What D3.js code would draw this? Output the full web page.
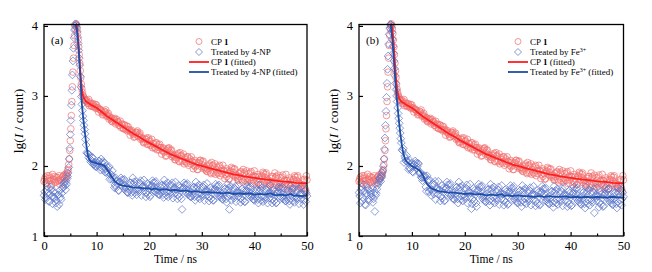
<!DOCTYPE html>
<html><head><meta charset="utf-8">
<script src="https://cdn.jsdelivr.net/npm/d3@7"></script>
<style>
body{margin:0;background:#fff}
text{font-family:"Liberation Serif","Times New Roman",serif}
</style>
</head><body>
<script>
var W = 652, H = 272;

// time channels (ns): 0.25 ns steps, finer 0.1 ns steps around the pulse (4-8 ns)
var time = d3.range(0, 16).map(function(k) { return k / 4 })
  .concat(d3.range(40, 80).map(function(k) { return k / 10 }))
  .concat(d3.range(32, 201).map(function(k) { return k / 4 }));
// in-between channels (x.125, x.375 ...) outside the pulse
var timeB = d3.range(0, 16).map(function(k) { return k / 4 + 0.125 })
  .concat(d3.range(32, 200).map(function(k) { return k / 4 + 0.125 }));

// CP 1 decay, lg(counts) -- same sample in both panels
var cp1 = [
 1.78,1.84,1.75,1.82, 1.86,1.79,1.73,1.81, 1.85,1.77,1.83,1.80, 1.74,1.79,1.84,1.87,
 1.82,1.88,1.85,1.90,1.87,1.93,1.95,2.02,2.10,2.22,
 2.36,2.53,2.72,2.92,3.13,3.34,3.54,3.72,3.86,3.96,
 4.01,4.03,4.01,3.96,3.89,3.80,3.70,3.59,3.47,3.36,
 3.26,3.17,3.10,3.05,3.01,2.99,2.97,2.95,2.94,2.93,
 2.93,2.90,2.95,2.91, 2.86,2.89,2.84,2.88, 2.87,2.83,2.81,2.80, 2.77,2.74,2.78,2.80,
 2.72,2.75,2.70,2.69, 2.63,2.67,2.68,2.62, 2.63,2.58,2.64,2.60, 2.54,2.59,2.52,2.57,
 2.56,2.52,2.49,2.47, 2.45,2.42,2.48,2.50, 2.43,2.47,2.41,2.39, 2.33,2.38,2.40,2.31,
 2.35,2.29,2.38,2.32, 2.27,2.33,2.23,2.30, 2.31,2.26,2.22,2.20, 2.20,2.15,2.24,2.26,
 2.19,2.23,2.16,2.13, 2.09,2.15,2.18,2.06, 2.14,2.06,2.17,2.10, 2.06,2.13,2.01,2.10,
 2.13,2.06,2.01,1.99, 2.01,1.95,2.05,2.08, 2.02,2.07,1.98,1.95, 1.92,1.99,2.03,1.89,
 2.00,1.90,2.03,1.95, 1.91,1.99,1.86,1.96, 2.01,1.93,1.88,1.85, 1.89,1.82,1.93,1.96,
 1.91,1.96,1.86,1.83, 1.80,1.89,1.92,1.77, 1.89,1.79,1.93,1.83, 1.81,1.90,1.75,1.86,
 1.93,1.84,1.78,1.76, 1.81,1.74,1.86,1.89, 1.84,1.90,1.79,1.75, 1.73,1.82,1.85,1.69,
 1.83,1.72,1.87,1.77, 1.75,1.84,1.68,1.80, 1.88,1.79,1.73,1.70, 1.76,1.68,1.81,1.84,
 1.79,1.86,1.74,1.70, 1.68,1.77,1.81,1.64, 1.80
];
var cp1B = [
 1.81,1.76,1.86,1.79, 1.83,1.74,1.88,1.80, 1.77,1.84,1.79,1.86, 1.81,1.76,1.85,1.83,
 2.94,2.89,2.86,2.89, 2.85,2.88,2.85,2.82, 2.83,2.77,2.81,2.79, 2.73,2.76,2.77,2.71,
 2.73,2.67,2.68,2.64, 2.65,2.66,2.60,2.66, 2.63,2.58,2.55,2.59, 2.53,2.58,2.53,2.50,
 2.51,2.44,2.51,2.48, 2.41,2.46,2.48,2.42, 2.45,2.38,2.39,2.34, 2.35,2.38,2.31,2.40,
 2.36,2.30,2.26,2.32, 2.25,2.33,2.27,2.23, 2.26,2.17,2.26,2.24, 2.14,2.22,2.25,2.17,
 2.22,2.13,2.15,2.09, 2.12,2.16,2.07,2.19, 2.15,2.08,2.03,2.12, 2.04,2.13,2.07,2.03,
 2.06,1.96,2.08,2.05, 1.95,2.04,2.08,1.99, 2.06,1.96,1.98,1.93, 1.96,2.01,1.91,2.05,
 2.01,1.93,1.88,1.98, 1.89,2.01,1.93,1.89, 1.93,1.82,1.96,1.93, 1.81,1.92,1.98,1.87,
 1.95,1.84,1.87,1.80, 1.85,1.91,1.80,1.95, 1.91,1.82,1.77,1.89, 1.79,1.92,1.84,1.80,
 1.85,1.73,1.88,1.85, 1.73,1.85,1.91,1.80, 1.88,1.76,1.80,1.73, 1.78,1.85,1.73,1.90,
 1.85,1.76,1.70,1.83, 1.73,1.87,1.78,1.74, 1.79,1.67,1.83,1.80, 1.67,1.80,1.86,1.75,
 1.84,1.71,1.75,1.68, 1.73,1.80,1.68,1.86
];

// treated by 4-NP (panel a)
var np = [
 1.58,1.52,1.66,1.61, 1.49,1.70,1.57,1.63, 1.54,1.47,1.42,1.59, 1.65,1.52,1.68,1.74,
 1.72,1.66,1.78,1.74,1.82,1.85,1.90,1.98,2.10,2.25,
 2.45,2.65,2.87,3.08,3.30,3.50,3.68,3.83,3.94,4.00,
 4.03,4.02,3.98,3.92,3.84,3.75,3.65,3.54,3.44,3.28,
 3.13,2.99,2.88,2.79,2.71,2.65,2.58,2.52,2.46,2.38,
 2.30,2.18,2.12,2.10, 2.08,2.12,2.03,2.00, 1.99,2.04,2.07,1.94, 2.04,1.95,2.05,1.96,
 1.92,1.97,1.81,1.88, 1.93,1.81,1.73,1.69, 1.74,1.65,1.77,1.80, 1.75,1.81,1.69,1.63,
 1.62,1.72,1.76,1.58, 1.74,1.62,1.78,1.67, 1.65,1.76,1.58,1.71, 1.80,1.69,1.62,1.59,
 1.67,1.58,1.72,1.76, 1.70,1.78,1.65,1.60, 1.59,1.69,1.73,1.55, 1.71,1.58,1.76,1.64,
 1.62,1.73,1.54,1.69, 1.77,1.66,1.59,1.56, 1.64,1.38,1.69,1.73, 1.67,1.75,1.61,1.57,
 1.56,1.66,1.70,1.51, 1.68,1.55,1.73,1.61, 1.59,1.70,1.51,1.66, 1.75,1.63,1.56,1.53,
 1.61,1.51,1.67,1.71, 1.65,1.73,1.59,1.55, 1.52,1.63,1.68,1.48, 1.66,1.38,1.71,1.59,
 1.57,1.68,1.49,1.64, 1.73,1.61,1.54,1.51, 1.59,1.49,1.65,1.69, 1.63,1.71,1.57,1.53,
 1.51,1.62,1.67,1.47, 1.64,1.51,1.69,1.57, 1.55,1.66,1.47,1.62, 1.72,1.60,1.53,1.50,
 1.58,1.48,1.64,1.68, 1.62,1.70,1.56,1.52, 1.50,1.60,1.65,1.45, 1.63,1.50,1.68,1.56,
 1.54,1.65,1.46,1.61, 1.71,1.59,1.52,1.49, 1.57
];
var npB = [
 1.63,1.55,1.71,1.50, 1.60,1.66,1.46,1.56, 1.62,1.51,1.58,1.45, 1.55,1.61,1.70,1.77,
 2.19,2.17,2.16,2.06, 2.12,2.02,2.05,1.99, 2.02,2.07,1.98,2.10, 2.06,1.98,1.91,2.00,
 1.89,1.99,1.88,1.81, 1.84,1.69,1.83,1.79, 1.65,1.77,1.83,1.71, 1.80,1.66,1.70,1.62,
 1.67,1.76,1.62,1.83, 1.77,1.66,1.59,1.75, 1.63,1.79,1.70,1.64, 1.70,1.56,1.75,1.72,
 1.56,1.71,1.79,1.66, 1.76,1.62,1.66,1.59, 1.64,1.72,1.59,1.80, 1.74,1.63,1.56,1.72,
 1.59,1.76,1.66,1.61, 1.67,1.53,1.72,1.69, 1.53,1.68,1.76,1.63, 1.73,1.59,1.63,1.56,
 1.61,1.69,1.56,1.77, 1.71,1.60,1.53,1.69, 1.56,1.73,1.63,1.58, 1.64,1.50,1.69,1.66,
 1.51,1.66,1.74,1.61, 1.71,1.56,1.61,1.53, 1.58,1.67,1.53,1.74, 1.69,1.58,1.51,1.67,
 1.54,1.71,1.61,1.56, 1.62,1.48,1.67,1.64, 1.49,1.64,1.72,1.59, 1.69,1.55,1.59,1.52,
 1.57,1.65,1.52,1.73, 1.67,1.56,1.49,1.65, 1.52,1.69,1.60,1.54, 1.61,1.47,1.66,1.63,
 1.47,1.62,1.70,1.57, 1.68,1.53,1.58,1.50, 1.55,1.64,1.50,1.71, 1.66,1.55,1.48,1.64,
 1.52,1.68,1.59,1.53, 1.60,1.45,1.65,1.61
];

// treated by Fe3+ (panel b)
var fe = [
 1.62,1.47,1.70,1.55, 1.64,1.44,1.58,1.66, 1.51,1.60,1.68,1.53, 1.35,1.61,1.72,1.78,
 1.82,1.78,1.86,1.84,1.90,1.93,2.00,2.10,2.24,2.40,
 2.58,2.78,2.98,3.18,3.38,3.57,3.74,3.88,3.97,4.02,
 4.02,3.98,3.91,3.81,3.71,3.61,3.50,3.39,3.29,3.18,
 3.09,3.00,2.92,2.83,2.75,2.68,2.61,2.54,2.47,2.39,
 2.33,2.22,2.05,2.11, 2.15,2.05,1.98,1.95, 1.99,1.91,2.02,2.04, 1.99,2.03,1.90,1.84,
 1.79,1.85,1.85,1.64, 1.78,1.63,1.79,1.66, 1.63,1.74,1.52,1.68, 1.78,1.66,1.57,1.54,
 1.62,1.51,1.68,1.73, 1.66,1.75,1.59,1.54, 1.52,1.64,1.70,1.47, 1.67,1.52,1.72,1.59,
 1.56,1.68,1.47,1.63, 1.74,1.39,1.53,1.50, 1.59,1.42,1.65,1.70, 1.63,1.72,1.56,1.51,
 1.49,1.61,1.67,1.44, 1.65,1.50,1.70,1.57, 1.54,1.66,1.45,1.61, 1.72,1.60,1.51,1.48,
 1.57,1.46,1.63,1.68, 1.62,1.71,1.55,1.50, 1.47,1.59,1.65,1.42, 1.63,1.48,1.68,1.55,
 1.53,1.65,1.44,1.60, 1.71,1.59,1.50,1.46, 1.56,1.45,1.62,1.67, 1.60,1.69,1.53,1.48,
 1.46,1.58,1.64,1.41, 1.62,1.47,1.67,1.54, 1.52,1.64,1.43,1.59, 1.70,1.58,1.49,1.45,
 1.55,1.44,1.61,1.66, 1.60,1.69,1.53,1.48, 1.45,1.57,1.63,1.40, 1.61,1.46,1.66,1.53,
 1.51,1.63,1.33,1.58, 1.69,1.57,1.48,1.45, 1.54,1.43,1.60,1.65, 1.59,1.68,1.52,1.47,
 1.45,1.57,1.62,1.40, 1.61,1.46,1.66,1.53, 1.56
];
var feB = [
 1.57,1.66,1.50,1.73, 1.45,1.61,1.69,1.53, 1.64,1.56,1.48,1.62, 1.58,1.67,1.75,1.82,
 2.23,2.25,2.14,2.07, 2.07,1.95,2.08,2.04, 1.92,2.02,2.07,1.96, 2.04,1.90,1.91,1.83,
 1.84,1.86,1.70,1.86, 1.80,1.67,1.58,1.74, 1.60,1.78,1.67,1.60, 1.66,1.50,1.72,1.68,
 1.50,1.68,1.77,1.61, 1.73,1.57,1.62,1.53, 1.59,1.69,1.53,1.77, 1.70,1.57,1.50,1.68,
 1.53,1.73,1.61,1.55, 1.62,1.46,1.68,1.65, 1.47,1.65,1.74,1.59, 1.70,1.53,1.58,1.49,
 1.56,1.66,1.50,1.74, 1.68,1.55,1.47,1.65, 1.51,1.70,1.59,1.53, 1.60,1.44,1.66,1.63,
 1.45,1.63,1.72,1.57, 1.68,1.52,1.57,1.48, 1.54,1.64,1.48,1.72, 1.66,1.53,1.46,1.64,
 1.50,1.69,1.58,1.52, 1.59,1.43,1.65,1.62, 1.44,1.62,1.71,1.56, 1.67,1.50,1.55,1.46,
 1.53,1.63,1.47,1.71, 1.65,1.52,1.45,1.63, 1.49,1.68,1.57,1.51, 1.58,1.42,1.64,1.61,
 1.43,1.61,1.70,1.55, 1.67,1.50,1.55,1.46, 1.52,1.62,1.46,1.70, 1.64,1.51,1.44,1.62,
 1.48,1.67,1.56,1.50, 1.57,1.41,1.63,1.60, 1.42,1.60,1.69,1.54, 1.66,1.49,1.54,1.45,
 1.52,1.62,1.46,1.70, 1.64,1.51,1.44,1.62
];

// fitted curves
var cp1FitT = [6.1,6.2,6.4,6.6,6.8,7.0,7.2,7.4,7.6,7.8,8,8.5,9,10,11,12,13,14,15,16,17,18,19,20,21,22,23,24,25,26,27,28,29,30,31,32,33,34,35,36,37,38,39,40,41,42,43,44,45,46,47,48,49,50];
var cp1Fit = [4.03,4.01,3.89,3.70,3.47,3.26,3.10,3.01,2.97,2.94,2.92,2.895,2.87,2.83,2.77,2.71,2.66,2.61,2.56,2.51,2.46,2.42,2.37,2.33,2.29,2.25,2.21,2.17,2.14,2.11,2.08,2.05,2.02,2.00,1.98,1.96,1.94,1.92,1.90,1.88,1.87,1.85,1.84,1.83,1.82,1.81,1.80,1.79,1.78,1.775,1.77,1.76,1.755,1.75];

var npFitT = [6.0,6.3,6.6,6.9,7.2,7.5,7.8,8.1,8.4,8.7,9,9.5,10,10.5,11,11.5,12,12.5,13,13.5,14,14.5,15,16,17,18,19,20,20.5,21,22,23,24,25,26,27,28,29,30,31,32,33,34,35,36,37,38,39,40,41,42,43,44,45,46,47,47.5,48,49,50];
var npFit = [4.03,3.92,3.65,3.28,2.88,2.65,2.46,2.27,2.13,2.08,2.06,2.05,2.04,2.03,2.02,2.00,1.95,1.89,1.83,1.78,1.75,1.73,1.72,1.71,1.69,1.69,1.68,1.68,1.66,1.68,1.66,1.67,1.65,1.66,1.64,1.65,1.63,1.64,1.62,1.63,1.62,1.62,1.61,1.62,1.60,1.61,1.60,1.61,1.59,1.60,1.59,1.61,1.58,1.59,1.58,1.60,1.57,1.58,1.57,1.58];

var feFitT = [5.9,6.0,6.3,6.6,6.9,7.2,7.5,7.8,8.1,8.4,8.75,9,9.5,10,10.5,11,11.5,12,12.5,13,13.5,14,14.5,15,16,17,18,19,20,21,22,23,24,25,26,27,27.5,28,29,30,31,32,33,34,35,36,37,38,39,40,41,42,43,44,45,46,47,48,49,50];
var feFit = [4.02,4.02,3.81,3.5,3.18,2.92,2.68,2.47,2.3,2.17,2.09,2.06,2.03,2.00,1.98,1.96,1.93,1.88,1.79,1.73,1.69,1.67,1.66,1.64,1.63,1.62,1.62,1.61,1.60,1.61,1.59,1.60,1.58,1.59,1.58,1.60,1.57,1.58,1.57,1.58,1.57,1.57,1.56,1.57,1.56,1.57,1.56,1.56,1.57,1.55,1.56,1.55,1.56,1.55,1.56,1.55,1.55,1.56,1.55,1.55];

var xTicks = [0, 10, 20, 30, 40, 50];
var xMinor = [5, 15, 25, 35, 45];
var yTicks = [1, 2, 3, 4];

var redPt = '#f07070', bluePt = '#5a74c8', redLine = '#ff1e1e', blueLine = '#1d4ea6';

var svg = d3.select('body').append('svg').attr('width', W).attr('height', H)
  .style('background', '#fff');

var plotTop = 24.5, plotBottom = 236;

function panel(o) {
  var x = d3.scaleLinear().domain([0, 50]).range([o.left, o.right]);
  var y = d3.scaleLinear().domain([1, 4.02]).range([plotBottom, plotTop]);
  var g = svg.append('g');

  var redPts = time.map(function(t, i) { return [t, cp1[i]] })
    .concat(timeB.map(function(t, i) { return [t, cp1B[i]] }));
  var bluePts = time.map(function(t, i) { return [t, o.data[i]] })
    .concat(timeB.map(function(t, i) { return [t, o.dataB[i]] }));

  // scatter: CP 1 circles
  g.append('g').selectAll('circle').data(redPts).join('circle')
    .attr('cx', function(d) { return x(d[0]) })
    .attr('cy', function(d) { return y(d[1]) })
    .attr('r', 3.3)
    .attr('fill', 'none').attr('stroke', redPt).attr('stroke-width', 0.7);

  // scatter: treated diamonds
  g.append('g').selectAll('path').data(bluePts).join('path')
    .attr('d', 'M0,-3.9L3.9,0L0,3.9L-3.9,0Z')
    .attr('transform', function(d) { return 'translate(' + x(d[0]) + ',' + y(d[1]) + ')' })
    .attr('fill', 'none').attr('stroke', bluePt).attr('stroke-width', 0.7);

  // fitted lines
  g.append('path').datum(cp1Fit)
    .attr('d', d3.line().x(function(d, i) { return x(cp1FitT[i]) }).y(function(d) { return y(d) }))
    .attr('fill', 'none').attr('stroke', redLine).attr('stroke-width', 1.8);
  g.append('path').datum(o.fit)
    .attr('d', d3.line().x(function(d, i) { return x(o.fitT[i]) }).y(function(d) { return y(d) }))
    .attr('fill', 'none').attr('stroke', blueLine).attr('stroke-width', 1.8);

  // axes
  var ax = g.append('g').attr('transform', 'translate(0,' + plotBottom + ')')
    .call(d3.axisBottom(x).tickValues(xTicks).tickSizeInner(-4).tickSizeOuter(0).tickPadding(5));
  ax.select('.domain').remove();
  ax.attr('font-size', 12.5);
  ax.selectAll('line').attr('stroke-width', 1.2);
  var axm = g.append('g').attr('transform', 'translate(0,' + plotBottom + ')')
    .call(d3.axisBottom(x).tickValues(xMinor).tickSizeInner(-2.5).tickSizeOuter(0).tickFormat(''));
  axm.select('.domain').remove();
  axm.selectAll('line').attr('stroke-width', 1.2);

  var ay = g.append('g').attr('transform', 'translate(' + o.left + ',0)')
    .call(d3.axisLeft(y).tickValues(yTicks).tickSizeInner(-4).tickSizeOuter(0).tickPadding(6).tickFormat(d3.format('d')));
  ay.select('.domain').remove();
  ay.attr('font-size', 12.5);
  ay.selectAll('line').attr('stroke-width', 1.2);

  g.append('rect').attr('x', o.left).attr('y', plotTop)
    .attr('width', o.right - o.left).attr('height', plotBottom - plotTop)
    .attr('fill', 'none').attr('stroke', '#000').attr('stroke-width', 1.3);

  // axis titles
  g.append('text').attr('x', (o.left + o.right) / 2).attr('y', 263)
    .attr('text-anchor', 'middle').attr('font-size', 11.5).text('Time / ns');
  var yl = g.append('text').attr('transform', 'translate(' + (o.left - 21) + ',121) rotate(-90)')
    .attr('text-anchor', 'middle').attr('font-size', 13.5);
  yl.append('tspan').text('lg(');
  yl.append('tspan').attr('font-style', 'italic').text('I');
  yl.append('tspan').text(' / count)');

  g.append('text').attr('x', o.left + 7).attr('y', 44).attr('font-size', 11).text(o.tag);

  // legend
  var lx = o.legX, rows = [41.5, 52, 62, 72];
  var leg = g.append('g').attr('font-size', 9);
  leg.append('circle').attr('cx', lx + 10).attr('cy', rows[0]).attr('r', 3)
    .attr('fill', 'none').attr('stroke', redPt).attr('stroke-width', 0.75);
  leg.append('path').attr('d', 'M0,-3.5L3.5,0L0,3.5L-3.5,0Z')
    .attr('transform', 'translate(' + (lx + 10) + ',' + rows[1] + ')')
    .attr('fill', 'none').attr('stroke', bluePt).attr('stroke-width', 0.75);
  leg.append('line').attr('x1', lx).attr('x2', lx + 20).attr('y1', rows[2]).attr('y2', rows[2])
    .attr('stroke', redLine).attr('stroke-width', 1.8);
  leg.append('line').attr('x1', lx).attr('x2', lx + 20).attr('y1', rows[3]).attr('y2', rows[3])
    .attr('stroke', blueLine).attr('stroke-width', 1.8);

  function cpText(t, suffix) {
    t.append('tspan').text('CP ');
    t.append('tspan').attr('font-weight', 'bold').text('1');
    if (suffix) t.append('tspan').text(suffix);
  }
  function trText(t, suffix) {
    t.append('tspan').text('Treated by ' + o.agent);
    if (o.sup) t.append('tspan').attr('font-size', 6).attr('dy', -3.5).text(o.sup);
    if (suffix) t.append('tspan').attr('dy', o.sup ? 3.5 : 0).text(suffix);
  }
  cpText(leg.append('text').attr('x', lx + 22).attr('y', rows[0] + 3));
  trText(leg.append('text').attr('x', lx + 22).attr('y', rows[1] + 3));
  cpText(leg.append('text').attr('x', lx + 22).attr('y', rows[2] + 3), ' (fitted)');
  trText(leg.append('text').attr('x', lx + 22).attr('y', rows[3] + 3), ' (fitted)');
}

panel({ left: 44, right: 307, data: np, dataB: npB, fit: npFit, fitT: npFitT, tag: '(a)', legX: 189, agent: '4-NP', sup: '' });
panel({ left: 359, right: 623.5, data: fe, dataB: feB, fit: feFit, fitT: feFitT, tag: '(b)', legX: 508, agent: 'Fe', sup: '3+' });
</script>
</body></html>
